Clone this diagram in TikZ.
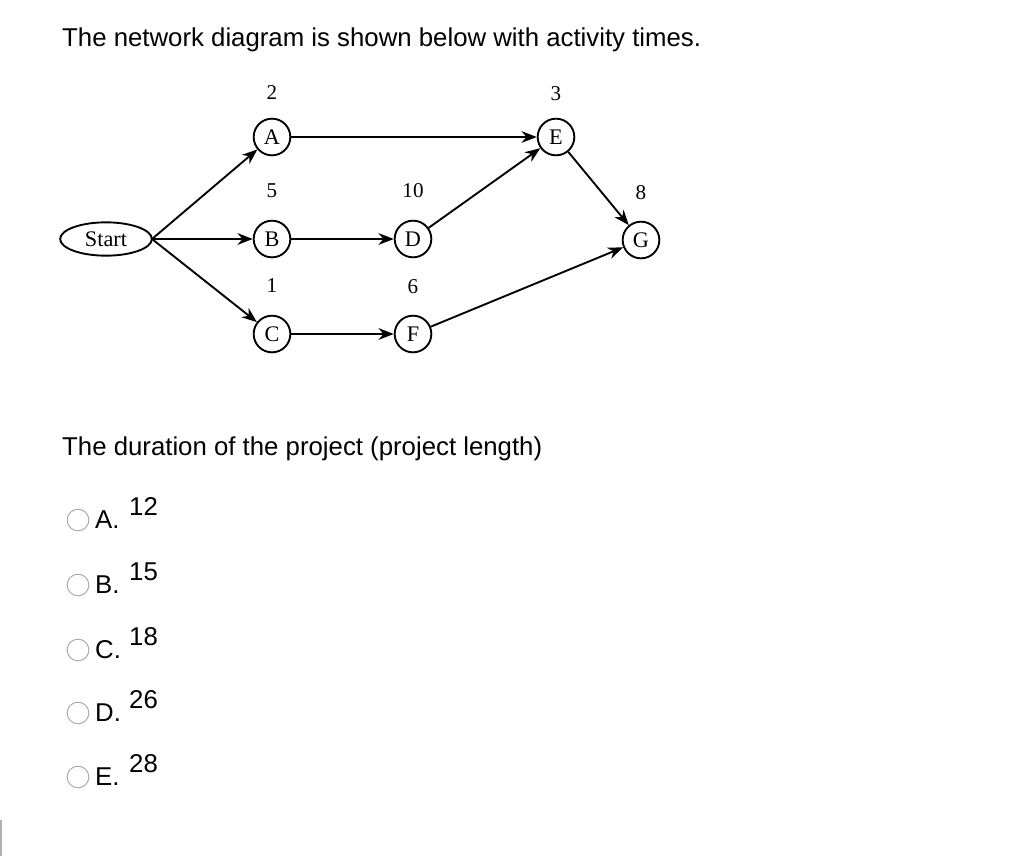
\documentclass[tikz,border=0pt]{standalone}
\usepackage{fontspec}
\setmainfont{Liberation Serif}
\newfontfamily\qsans{Liberation Sans}
\usetikzlibrary{arrows.meta,shapes.geometric}
\begin{document}
\begin{tikzpicture}[x=0.03cm,y=-0.03cm,
  act/.style={circle,draw,line width=1.6pt,minimum size=1.1cm,inner sep=0pt,font=\fontsize{19}{19}\selectfont},
  dur/.style={font=\fontsize{18}{18}\selectfont,inner sep=0pt},
  arr/.style={line width=1.6pt,-{Stealth[length=13pt,width=10pt]}},
  qtxt/.style={font=\qsans\fontsize{22}{22}\selectfont,anchor=base west,inner sep=0pt},
  radio/.style={circle,draw=gray!70,line width=0.8pt,minimum size=0.65cm,inner sep=0pt}]
\useasboundingbox[fill=white] (0,0) rectangle (1024,856);
\node[qtxt] (title) at (62,46) {The network diagram is shown below with activity times.};
\node[ellipse,draw,line width=1.6pt,minimum width=2.75cm,minimum height=1.0cm,inner sep=0pt,font=\fontsize{19}{19}\selectfont] (S) at (106,239) {Start};
\node[act] (A) at (272,137) {A};
\node[act] (E) at (556,137) {E};
\node[act] (B) at (272,239) {B};
\node[act] (D) at (413,239) {D};
\node[act] (G) at (641,240) {G};
\node[act] (C) at (272,334) {C};
\node[act] (F) at (413,334) {F};
\node[dur] (tA) at (272,93) {2};
\node[dur] (tE) at (556,94) {3};
\node[dur] (tB) at (272,191) {5};
\node[dur] (tD) at (413,191) {10};
\node[dur] (tG) at (641,193) {8};
\node[dur] (tC) at (272,286) {1};
\node[dur] (tF) at (413,287) {6};
\coordinate (st) at (152,239);
\draw[arr] (st) -- (A);
\draw[arr] (st) -- (B);
\draw[arr] (st) -- (C);
\draw[arr] (A) -- (E);
\draw[arr] (B) -- (D);
\draw[arr] (D) -- (E);
\draw[arr] (E) -- (G);
\draw[arr] (C) -- (F);
\draw[arr] (F) -- (G);
\node[qtxt] (q) at (62,455) {The duration of the project (project length)};
\foreach \y/\l/\v [count=\i] in {520/A/12,585/B/15,650/C/18,713/D/26,777/E/28}{
  \node[radio] (r\i) at (78,\y) {};
  \node[qtxt] (l\i) at (95,\y+8) {\l.};
  \node[qtxt] (v\i) at (129,\y-5) {\v};
}
\draw[gray!60,line width=2pt] (1,820) -- (1,856);
\end{tikzpicture}
\end{document}
